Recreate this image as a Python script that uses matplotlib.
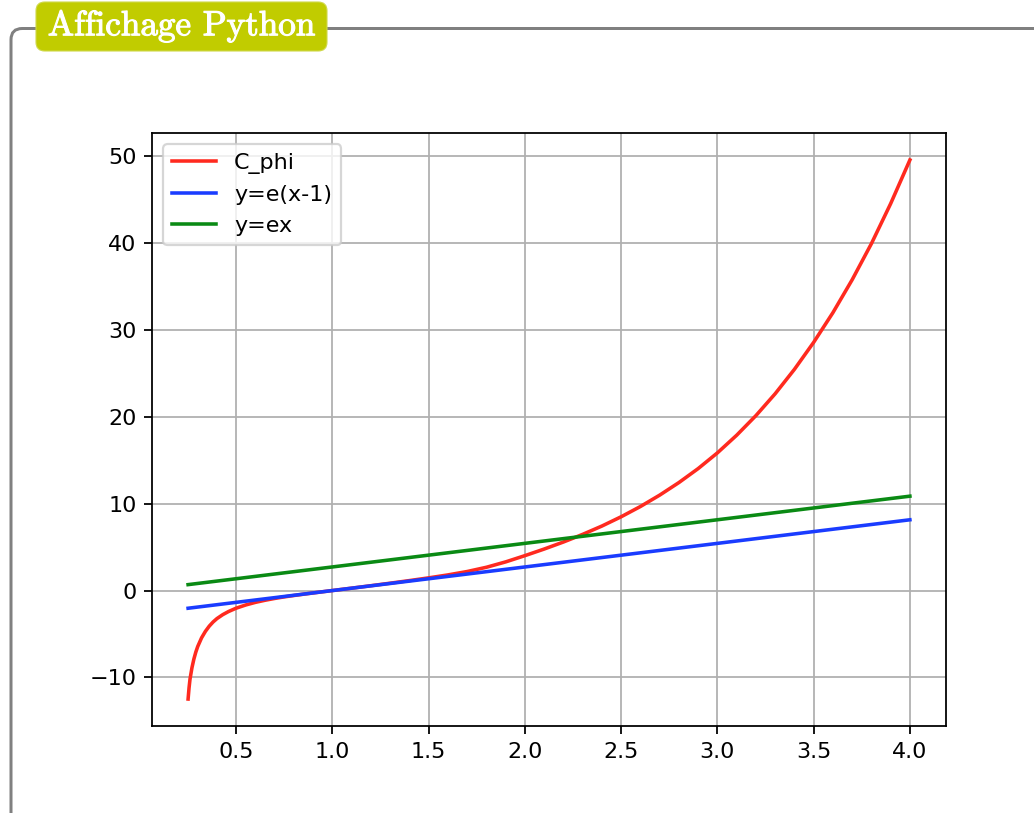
import numpy as np
import matplotlib
matplotlib.use("Agg")
import matplotlib.pyplot as plt
import matplotlib.patheffects as pe
from matplotlib.patches import FancyBboxPatch

# C_phi curve
phi_x = [0.25, 0.255, 0.26, 0.27, 0.28, 0.29, 0.30, 0.32, 0.34, 0.36,
         0.38, 0.40, 0.43, 0.46, 0.50, 0.55, 0.60, 0.65, 0.70, 0.75,
         0.80, 0.85, 0.90, 0.95, 1.0, 1.1, 1.2, 1.3, 1.4, 1.5,
         1.6, 1.7, 1.8, 1.9, 2.0, 2.1, 2.2, 2.3, 2.4, 2.5,
         2.6, 2.7, 2.8, 2.9, 3.0, 3.1, 3.2, 3.3, 3.4, 3.5,
         3.6, 3.7, 3.8, 3.9, 4.0]
phi_y = [-12.5, -11.2, -10.2, -8.9, -7.9, -7.1, -6.45, -5.45, -4.7, -4.1,
         -3.62, -3.23, -2.78, -2.42, -2.03, -1.66, -1.36, -1.12, -0.91, -0.73,
         -0.57, -0.42, -0.276, -0.137, 0.0, 0.275, 0.555, 0.845, 1.145, 1.46,
         1.80, 2.19, 2.68, 3.30, 4.02, 4.78, 5.59, 6.47, 7.43, 8.50,
         9.68, 10.99, 12.44, 14.05, 15.86, 17.89, 20.15, 22.67, 25.48, 28.59,
         32.01, 35.80, 39.96, 44.57, 49.60]

# straight lines, end points
tan_x = [0.25, 4.0]
tan_y = [-2.04, 8.15]
ex_x = [0.25, 4.0]
ex_y = [0.68, 10.87]

labels = ["C_phi", "y=e(x-1)", "y=ex"]
title = "Affichage Python"

dpi = 160
fig = plt.figure(figsize=(1034 / dpi, 813 / dpi), dpi=dpi)

# tcolorbox-like frame and title tab (in inches)
frame = FancyBboxPatch((11 / dpi, -1.0), 8.0, (813 - 28.5) / dpi + 1.0,
                       boxstyle="round,pad=0,rounding_size=0.07",
                       transform=fig.dpi_scale_trans, facecolor="none",
                       edgecolor="#808080", linewidth=1.35, zorder=0)
fig.patches.append(frame)
tab = FancyBboxPatch((36 / dpi, (813 - 51) / dpi), 291 / dpi, 49 / dpi,
                     boxstyle="round,pad=0,rounding_size=0.055",
                     transform=fig.dpi_scale_trans, facecolor="#c1cc00",
                     edgecolor="#cfd84a", linewidth=0.5, zorder=1)
fig.patches.append(tab)
fig.text(181.5 / 1034, 1 - 26 / 813, title, color="white", family="cmr10",
         fontsize=15.8, ha="center", va="center",
         path_effects=[pe.withStroke(linewidth=0.5, foreground="white")])

ax = fig.add_axes([152 / 1034, 1 - 726 / 813, 794 / 1034, 593 / 813])
ax.plot(phi_x, phi_y, color="#ff2a1f", label=labels[0], lw=1.6)
ax.plot(tan_x, tan_y, color="#1a3cff", label=labels[1], lw=1.6)
ax.plot(ex_x, ex_y, color="#0a8a14", label=labels[2], lw=1.6)
ax.grid(True)
ax.legend(loc="upper left")

fig.savefig("out.png", dpi=dpi)
